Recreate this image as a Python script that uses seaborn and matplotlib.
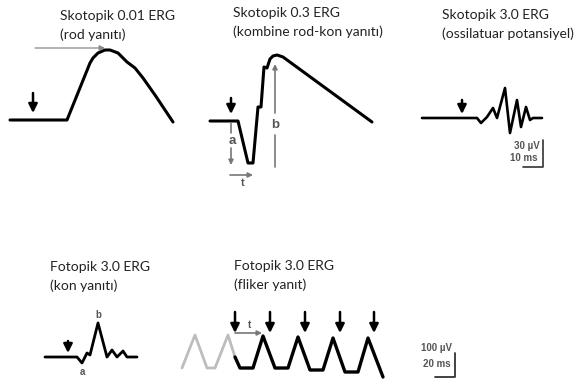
import matplotlib
matplotlib.use("Agg")
import matplotlib.pyplot as plt
import seaborn as sns

sns.set_theme(style="white")
plt.rcParams["font.family"] = ["Lato", "DejaVu Sans"]

W, H = 582, 381

# Waveforms: time and amplitude samples for each standard recording
rod_t = [0, 57, 80, 83, 88, 95, 100, 108, 117, 125, 133, 145, 163]
rod_v = [0, 0, 57, 62, 67, 70, 70, 67, 58, 52, 42, 25, -2]

mixed_t = [0, 28, 38, 43, 48, 51, 54, 57, 60, 63, 67, 73, 162]
mixed_v = [0, 0, -42, -42, 14, 14, 54, 53, 62, 65, 66, 64, -1]

op_t = [0, 55, 59, 65, 71, 75, 83, 88, 95, 99, 104, 108, 111, 120]
op_v = [0, 0, -5, 1, 10, 0, 30, -15, 18, -9, 11, -2, 0, 0]

cone_t = [0, 32, 37, 42, 45, 53, 62, 67, 72, 78, 82, 92]
cone_v = [0, 0, -6, 4, 2, 34, 0, 7, 0, 6, 0, 0]

flicker_pre_t = [0, 13, 25, 33, 46, 53]
flicker_pre_v = [0, 33, 0, 0, 33, 11]
flicker_t = [53, 58, 71, 81, 93, 106, 116, 128, 141, 151, 163, 176, 186, 201]
flicker_v = [11, 0, 0, 32, 0, 0, 31, -2, -2, 30, -4, -4, 30, -9]

# Stimulus onsets
rod_stim = 23
mixed_stim = 21
op_stim = 40
cone_stim = 23
flicker_stim = [53, 88, 123, 158, 192]

titles = [
    ("Skotopik 0.01 ERG", "(rod yanıtı)"),
    ("Skotopik 0.3 ERG", "(kombine rod-kon yanıtı)"),
    ("Skotopik 3.0 ERG", "(ossilatuar potansiyel)"),
    ("Fotopik 3.0 ERG", "(kon yanıtı)"),
    ("Fotopik 3.0 ERG", "(fliker yanıt)"),
]
title_pos = [(60, 16), (233, 13), (442, 15), (50, 267), (234, 266)]

scale_small = ("30 µV", "10 ms")
scale_large = ("100 µV", "20 ms")

fig = plt.figure(figsize=(W / 100, H / 100), dpi=100)
fig.patch.set_facecolor("white")

TRACE_LW = 2.2
LABEL_KW = dict(family=["Liberation Sans", "DejaVu Sans"], color="#555555",
                fontweight="bold")


def panel(ox, oy, left, right, up, down):
    ax = fig.add_axes([(ox - left) / W, 1 - (oy + down) / H,
                       (left + right) / W, (up + down) / H])
    ax.set_xlim(-left, right)
    ax.set_ylim(-down, up)
    ax.axis("off")
    return ax


def trace(ax, t, v, color="black", lw=TRACE_LW):
    sns.lineplot(x=t, y=v, ax=ax, color=color, lw=lw, sort=False,
                 estimator=None, legend=False)


def stim(ax, t, tail, tip):
    ax.annotate("", xy=(t, tip), xytext=(t, tail),
                arrowprops=dict(arrowstyle="-|>", color="black", lw=1.8,
                                mutation_scale=13, shrinkA=0, shrinkB=0))


def thin_arrow(ax, start, end, color="#666666", lw=1.0, ms=7):
    ax.annotate("", xy=end, xytext=start,
                arrowprops=dict(arrowstyle="-|>", color=color, lw=lw,
                                mutation_scale=ms, shrinkA=0, shrinkB=0))


# Scotopic 0.01 (rod)
ax1 = panel(10, 120, 5, 170, 80, 10)
trace(ax1, rod_t, rod_v)
stim(ax1, rod_stim, 27, 7)
peak_t = rod_t[rod_v.index(max(rod_v))]
thin_arrow(ax1, (25, 72), (peak_t, 72), color="#888888", lw=0.9, ms=8)

# Scotopic 0.3 (mixed rod-cone)
ax2 = panel(210, 121, 5, 170, 75, 70)
trace(ax2, mixed_t, mixed_v)
stim(ax2, mixed_stim, 23, 7)
ax2.plot([mixed_stim, mixed_stim], [-2, -12], color="#777777", lw=1.2)
ax2.text(mixed_stim + 1, -20, "a", ha="center", va="center", fontsize=9.5,
         **LABEL_KW)
thin_arrow(ax2, (mixed_stim, -27), (mixed_stim, -44), color="#777777", lw=1.2)
thin_arrow(ax2, (mixed_stim - 1, -54), (43, -54), color="#777777", lw=1.2)
ax2.text(33, -62, "t", ha="center", va="center", fontsize=8, **LABEL_KW)
ax2.plot([65, 65], [-14, -46], color="#777777", lw=1.2)
ax2.text(65, -4, "b", ha="center", va="center", fontsize=9.5, **LABEL_KW)
thin_arrow(ax2, (65, 8), (65, 57), color="#777777", lw=1.2)

# Scotopic 3.0 (oscillatory potentials)
ax3 = panel(422, 118, 5, 130, 40, 55)
trace(ax3, op_t, op_v, lw=1.9)
stim(ax3, op_stim, 18, 4)
ax3.plot([101, 121, 121], [-49, -49, -22], color="#333333", lw=1.2)
ax3.text(118, -28, scale_small[0], ha="right", va="center", fontsize=7,
         **LABEL_KW)
ax3.text(116, -40, scale_small[1], ha="right", va="center", fontsize=7,
         **LABEL_KW)

# Photopic 3.0 (cone)
ax4 = panel(45, 357, 5, 100, 50, 22)
trace(ax4, cone_t, cone_v, lw=2.0)
stim(ax4, cone_stim, 16, 4)
ax4.text(53, 42, "b", ha="center", va="center", fontsize=7, **LABEL_KW)
ax4.text(37, -15, "a", ha="center", va="center", fontsize=7, **LABEL_KW)

# Photopic 3.0 flicker
ax5 = panel(182, 368, 5, 280, 62, 13)
trace(ax5, flicker_pre_t, flicker_pre_v, color="#bdbdbd", lw=2.0)
trace(ax5, flicker_t, flicker_v, lw=2.4)
for s in flicker_stim:
    stim(ax5, s, 56, 35)
thin_arrow(ax5, (flicker_stim[0], 35), (80, 35), color="#777777", lw=1.2)
ax5.text(68, 43, "t", ha="center", va="center", fontsize=7, **LABEL_KW)
ax5.plot([253, 273, 273], [-9, -9, 15], color="#333333", lw=1.3)
ax5.text(270, 20, scale_large[0], ha="right", va="center", fontsize=7,
         **LABEL_KW)
ax5.text(269, 4, scale_large[1], ha="right", va="center", fontsize=7,
         **LABEL_KW)

for (x, y), (line1, line2) in zip(title_pos, titles):
    fig.text(x / W, 1 - y / H, line1, ha="left", va="center", fontsize=10,
             color="#222222")
    fig.text(x / W, 1 - (y + 18.5) / H, line2, ha="left", va="center",
             fontsize=10, color="#222222")

fig.savefig("out.png", dpi=100, facecolor="white")
